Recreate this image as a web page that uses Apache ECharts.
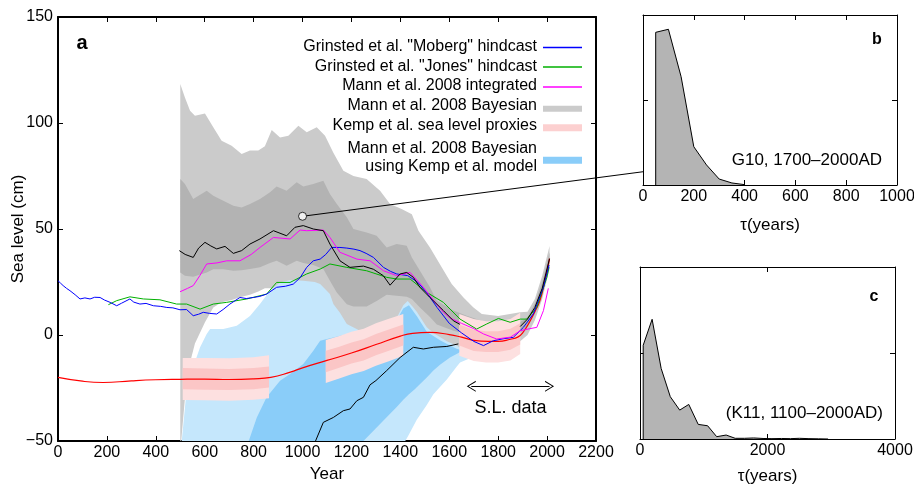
<!DOCTYPE html>
<html>
<head>
<meta charset="utf-8">
<script src="https://cdn.jsdelivr.net/npm/echarts/dist/echarts.min.js"></script>
<style>html,body{margin:0;padding:0;background:#fff}#chart{width:914px;height:486px}</style>
</head>
<body>
<div id="chart"></div>
<script>
var FONT = '"Liberation Sans", Arial, sans-serif';

// ---- panel a : sea level (cm) ----
var redYears = [0,100,185,300,400,500,600,700,800,870,950,1000,1100,1200,1300,1400,1450,1520,1600,1650,1700,1760,1800,1850,1880,1900,1930,1950,1970,1990,2010];
var redVals  = [-20,-21.8,-22.4,-21.6,-21.1,-20.9,-20.8,-21,-20.7,-20,-17.5,-15.5,-12,-8.5,-4.5,-0.5,0.8,1.2,0.2,-1,-2.5,-3,-3,-2,-1,1,6.5,11,16,25,36];

var blueYears = [0,10,21,35,49,70,90,110,131,150,172,190,213,240,260,294,310,335,360,390,420,445,470,499,526,553,575,594,620,649,675,703,744,770,799,825,853,894,930,962,990,1017,1044,1072,1095,1119,1153,1181,1210,1235,1260,1290,1331,1360,1385,1430,1470,1508,1550,1600,1650,1700,1740,1780,1820,1862,1903,1944,1985,2008];
var blueVals  = [25.6,24.5,23.3,22,20.9,19,17,17.5,17,17.8,17.7,16.5,15.4,13.8,15,17,15.5,14.6,14.9,13.8,13.5,13,12.8,11.9,12,9.1,9.8,10.7,10.2,9.9,12,14.6,17.7,17.2,17.7,18.2,19.3,22.5,23,24,27,31.9,35,35.8,38,41.3,41.3,41,40.5,39.8,38.5,36.6,31.9,30,28.8,28,25,20,13,5.5,1,-3,-5,-2.7,-1.8,-1.1,3.6,10,22.5,33];

var greenYears = [206,240,294,349,417,485,526,581,635,690,772,853,894,949,1017,1072,1112,1181,1262,1344,1385,1440,1508,1576,1644,1712,1753,1801,1849,1890,1917,1958,1999,2008];
var greenVals  = [14.3,16.2,18,17,16.6,14.6,14.6,12.2,14.6,15.4,17,19.3,24.8,24.8,28.8,31.1,33.5,31.9,30.3,27.2,26.4,26.4,20.1,15.4,7.5,2.8,5.2,7.8,6,7.5,7.5,13,27.2,32];

var magentaYears = [499,530,553,580,608,650,690,744,790,826,881,949,990,1017,1085,1112,1153,1222,1276,1331,1385,1440,1494,1521,1576,1603,1650,1700,1740,1794,1850,1890,1930,1958,1985,2005];
var magentaVals  = [20.4,22,23.3,28,33.5,34,35,35,38,41.3,46,45.3,49.5,49.2,49.5,46,39,35.8,35,30.3,28,29.5,22.5,18.5,10.7,8,5.5,3,0.5,-1.9,-1,2,3,3.6,11.5,22];

var blackYears = [496,520,553,575,601,625,649,683,717,751,785,826,881,935,969,1003,1044,1085,1112,1153,1194,1249,1290,1330,1358,1399,1426,1453,1480,1521,1576,1617,1644];
var blackVals  = [39.8,38,36.6,41,43.7,42,40.6,41.8,38.5,39.8,42.9,45.3,49.2,46.8,50.8,51.6,50,49.2,42.9,35,31.9,32.5,31,28,23.5,28.8,29.5,27.2,22.5,17.7,11.5,6.7,5];
var blackEndYears = [1890,1920,1950,1980,2010];
var blackEndVals  = [4,7.5,13,22,36];

var kempMedYears = [1035,1085,1126,1167,1194,1222,1249,1276,1300,1344,1399,1453,1494,1535,1590,1637];
var kempMedVals  = [-55,-41.2,-38.9,-35.7,-34.9,-31,-29.4,-23.5,-21.5,-16.8,-10.6,-5.8,-6.6,-5.8,-5.4,-4.2];

var grayOutYears = [500,519,540,560,601,635,669,710,751,785,819,846,874,908,942,983,1017,1058,1092,1126,1167,1208,1262,1317,1358,1405,1447,1474,1521,1569,1610,1658,1699,1733,1800,1890,1920,1950,1980,2010];
var grayOutHi = [118.4,112,105.8,103.4,104.5,98,91.6,89.3,85.4,87,87,89,96.7,93.2,94,98.7,95.6,98,94,86,77.5,75,73.6,68,61.8,59.4,57,49.2,41.3,31.9,24,17.7,13,9.9,9,10.7,11,17,28,42];
var grayOutLo = [-55,-30,-13,-4,6,13,15.5,16.5,18,19,20.5,22,22,17,8,2,0,-3,-5,-5,-5,-5,-5,-4,-2,0,4,3,0,-3,-6,-8,-8,-8,-7,-3,0,7,17,31];

var grayInYears = [500,519,553,608,635,676,717,751,785,826,867,894,935,976,1003,1044,1085,1112,1140,1181,1208,1262,1303,1344,1385,1426,1447,1480,1521,1549,1617,1671,1750,1890,1920,1950,1980,2010];
var grayInHi = [73.6,71.2,64.2,68,65.7,63.3,61,60.2,61.8,64.2,67.3,70,68,72,70,71.2,72.8,66.5,61.8,55.5,50,48.4,46.8,41.3,42.9,42.1,36.6,30.3,22.5,16.2,11.5,9.1,6,6,8.5,15,25,39];
var grayInLo = [29.5,28,27.5,29.5,31,31,30.3,30.5,31.1,32,34,35,32.7,35,34,33,31.1,25.6,20,14.5,13.5,13.5,16,19,18.5,18,17,13,8.5,5,2,0.5,0,1,4,10,20,34];

var lbYears = [500,506,526,553,581,608,622,676,731,785,826,867,908,950,1003,1050,1072,1112,1126,1153,1181,1235,1300,1380,1412,1420,1430,1453,1467,1508,1535,1562,1590,1630,1644,1685,1700,1750,1800];
var lbHi = [-55,-50,-26,-15,-5.8,0.5,2.8,2.8,4.4,9,14.6,21,24.8,26,25.6,25,24,19.3,14.6,10.5,5.2,2,4,7,14,15,16,13,11,3.6,1,-1,-3,-5,-6,-8.5,-9,-9.5,-8];
var lbLo = [-55,-55,-55,-55,-55,-55,-55,-55,-55,-55,-55,-55,-55,-55,-55,-55,-55,-55,-55,-55,-55,-55,-55,-55,-55,-50,-48,-43,-40,-33,-28,-24.5,-21,-15,-13,-11,-10.5,-10,-8];

var dbYears = [772,780,813,853,908,949,1003,1044,1072,1100,1200,1240,1249,1300,1317,1380,1385,1412,1435,1460,1467,1508,1535,1562,1603,1630,1644,1700];
var dbHi = [-55,-50,-38.9,-29.4,-21.6,-18.4,-13.7,-7.4,-2.7,-1.9,1,2,2.5,4,4.5,6,7,12.5,14,10,9,1.5,-0.5,-2.5,-5,-6.5,-7,-9.5];
var dbLo = [-55,-55,-55,-55,-55,-55,-55,-55,-55,-55,-55,-55,-50,-44,-42,-34.5,-34,-30.5,-28,-25.5,-24.7,-20,-16.8,-14,-10.6,-9,-8,-9.5];

// Kemp et al. sea level proxies: three segments, outer and inner ranges
var seg1Years = [510,600,700,800,863];
var seg1OutHi = [-10.8,-10.8,-11,-10.5,-9.6];
var seg1InHi  = [-15.6,-15.8,-16,-15.6,-14.8];
var seg1InLo  = [-25.6,-25.8,-26,-25.6,-24.8];
var seg1OutLo = [-30.7,-30.8,-31,-30.6,-29.8];
var seg2Years = [1095,1150,1200,1250,1300,1350,1412];
var seg2OutHi = [-2.4,-0.5,1.5,3,5.5,7.5,9.9];
var seg2InHi  = [-7.4,-5.5,-3.5,-2,0.5,2.5,5];
var seg2InLo  = [-17.6,-15.5,-13.5,-12,-9.5,-7.5,-5];
var seg2OutLo = [-22.7,-20.5,-18.5,-17,-14.5,-12.5,-9.8];
var seg3Years = [1641,1700,1750,1800,1850,1890];
var seg3OutHi = [9.9,7.5,6.5,6.5,7.5,10.5];
var seg3InHi  = [5,2.5,1.8,1.8,3,5.5];
var seg3InLo  = [-5,-7.5,-8,-8,-7,-4.5];
var seg3OutLo = [-9.8,-12.3,-13,-13,-12,-9];

var markerPoint = [1000, 56];
var slDataRange = [1690, 2010];
var slDataLevel = -24.2;

// ---- panels b and c : tau distributions ----
var bTau = [50,50,100,150,200,250,300,350,400];
var bDen = [0,0.898,0.916,0.637,0.225,0.118,0.035,0.012,0.002];
var cTau = [50,50,190,332,475,623,765,913,1061,1203,1351,1493,1640,1784,1930,2070,2220,2360,2500,2650,2800,2950];
var cDen = [0,0.545,0.696,0.41,0.246,0.168,0.201,0.085,0.077,0.0135,0.023,0.004,0.004,0.006,0.003,0.002,0.003,0.002,0.004,0.002,0.001,0];

function pairs(xs, ys) { return xs.map(function (x, i) { return [x, ys[i]]; }); }

// filled range between lo and hi, drawn as one polygon through the axes
function band(xs, lo, hi, color) {
    return {
        type: 'custom', silent: true, clip: true,
        data: xs.map(function (x, i) { return [x, lo[i], hi[i]]; }),
        encode: { x: 0, y: [1, 2] },
        renderItem: function (params, api) {
            if (params.dataIndexInside !== 0) return null;
            var n = params.dataInsideLength, top = [], bot = [];
            for (var j = 0; j < n; j++) {
                top.push(api.coord([api.value(0, j), api.value(2, j)]));
                bot.push(api.coord([api.value(0, j), api.value(1, j)]));
            }
            var c = params.coordSys;
            return {
                type: 'polygon',
                shape: { points: top.concat(bot.reverse()) },
                style: { fill: color },
                clipPath: { type: 'rect', shape: { x: c.x, y: c.y, width: c.width, height: c.height } }
            };
        }
    };
}

function curve(xs, ys, color, width, smooth) {
    return { type: 'line', data: pairs(xs, ys), symbol: 'none', smooth: !!smooth, silent: true,
             lineStyle: { color: color, width: width } };
}

var PINK_OUT = '#fde0e0', PINK_IN = '#fbc6c6';
var chevron = 'path://M0,10L5,0L10,10L9,10L5,2L1,10Z';

var series = [
    band(grayOutYears, grayOutLo, grayOutHi, '#cbcbcb'),
    band(grayInYears, grayInLo, grayInHi, '#b3b3b3'),
    band(lbYears, lbLo, lbHi, '#c5e7fc'),
    band(dbYears, dbLo, dbHi, '#8acdf9'),
    band(seg1Years, seg1OutLo, seg1OutHi, PINK_OUT),
    band(seg1Years, seg1InLo, seg1InHi, PINK_IN),
    band(seg2Years, seg2OutLo, seg2OutHi, PINK_OUT),
    band(seg2Years, seg2InLo, seg2InHi, PINK_IN),
    band(seg3Years, seg3OutLo, seg3OutHi, PINK_OUT),
    band(seg3Years, seg3InLo, seg3InHi, PINK_IN)
];

var red = curve(redYears, redVals, '#ff0000', 1.2, true);
red.markLine = {
    silent: true, symbol: [chevron, chevron], symbolSize: [11, 9],
    lineStyle: { color: '#000', width: 1, type: 'solid' },
    label: { show: true, formatter: 'S.L. data', position: 'insideMiddleBottom', distance: 13,
             color: '#000', fontSize: 18, fontFamily: FONT },
    data: [[{ coord: [slDataRange[0], slDataLevel] }, { coord: [slDataRange[1], slDataLevel] }]]
};
series.push(red);
series.push(curve(kempMedYears, kempMedVals, '#000', 1));
series.push(curve(greenYears, greenVals, '#00b000', 1));
series.push(curve(blueYears, blueVals, '#0000ff', 1));
series.push(curve(magentaYears, magentaVals, '#ff00ff', 1));
series.push(curve(blackYears, blackVals, '#000', 1));
series.push(curve(blackEndYears, blackEndVals, '#000', 1));
series.push({ type: 'scatter', data: [markerPoint], symbolSize: 8, z: 20, silent: true,
              itemStyle: { color: '#fff', borderColor: '#000', borderWidth: 1 } });

series.push({ type: 'line', xAxisIndex: 2, yAxisIndex: 2, data: pairs(bTau, bDen), symbol: 'none',
              silent: true, lineStyle: { color: '#000', width: 1 }, areaStyle: { color: '#b4b4b4', opacity: 1 } });
series.push({ type: 'line', xAxisIndex: 4, yAxisIndex: 4, data: pairs(cTau, cDen), symbol: 'none',
              silent: true, lineStyle: { color: '#000', width: 1 }, areaStyle: { color: '#b4b4b4', opacity: 1 } });

function plain(v) { return String(v); }

function xAx(grid, min, max, step, pos, lw, extra) {
    var a = {
        type: 'value', gridIndex: grid, min: min, max: max, interval: step, position: pos,
        axisLine: { show: true, onZero: false, lineStyle: { color: '#000', width: lw } },
        axisTick: { show: true, inside: true, length: 5, lineStyle: { color: '#000', width: 1 } },
        axisLabel: { show: pos === 'bottom', color: '#000', fontSize: 16, fontFamily: FONT, margin: 4, formatter: plain },
        splitLine: { show: false }
    };
    return Object.assign(a, extra || {});
}
function yAx(grid, min, max, step, pos, lw, extra) {
    var a = {
        type: 'value', gridIndex: grid, min: min, max: max, interval: step, position: pos,
        axisLine: { show: true, onZero: false, lineStyle: { color: '#000', width: lw } },
        axisTick: { show: true, inside: true, length: 5, lineStyle: { color: '#000', width: 1 } },
        axisLabel: { show: false },
        splitLine: { show: false }
    };
    return Object.assign(a, extra || {});
}

var chart = echarts.init(document.getElementById('chart'));
chart.setOption({
    animation: false,
    grid: [
        { left: 58, top: 17, width: 538, height: 424, outerBoundsMode: 'none' },
        { left: 643, top: 15, width: 254, height: 170, outerBoundsMode: 'none' },
        { left: 640, top: 267, width: 255, height: 172, outerBoundsMode: 'none' }
    ],
    xAxis: [
        xAx(0, 0, 2200, 200, 'bottom', 2, { name: 'Year', nameLocation: 'middle', nameGap: 21,
            nameTextStyle: { color: '#000', fontSize: 17, fontFamily: FONT } }),
        xAx(0, 0, 2200, 200, 'top', 2),
        xAx(1, 0, 1000, 200, 'bottom', 1, { name: 'τ(years)', nameLocation: 'middle', nameGap: 32,
            nameTextStyle: { color: '#000', fontSize: 17, fontFamily: FONT } }),
        xAx(1, 0, 1000, 200, 'top', 1),
        xAx(2, 0, 4000, 2000, 'bottom', 1, { name: 'τ(years)', nameLocation: 'middle', nameGap: 29,
            nameTextStyle: { color: '#000', fontSize: 17, fontFamily: FONT } }),
        xAx(2, 0, 4000, 2000, 'top', 1)
    ],
    yAxis: [
        yAx(0, -50, 150, 50, 'left', 2, {
            axisLabel: { show: true, color: '#000', fontSize: 16, fontFamily: FONT, margin: 5,
                         formatter: function (v) { return v < 0 ? '\u2212' + Math.abs(v) : String(v); } },
            name: 'Sea level (cm)', nameLocation: 'middle', nameGap: 31, nameMoveOverlap: false,
            nameTextStyle: { color: '#000', fontSize: 17, fontFamily: FONT } }),
        yAx(0, -50, 150, 50, 'right', 2),
        yAx(1, 0, 1, 0.5, 'left', 1),
        yAx(1, 0, 1, 0.5, 'right', 1),
        yAx(2, 0, 1, 0.5, 'left', 1),
        yAx(2, 0, 1, 0.5, 'right', 1)
    ],
    series: series
});

// connector from the marked point to panel b, plus labels and the legend
var p1 = chart.convertToPixel({ xAxisIndex: 0, yAxisIndex: 0 }, markerPoint);
var p2 = chart.convertToPixel({ xAxisIndex: 2, yAxisIndex: 2 }, [0, 0.078]);
var dx = p2[0] - p1[0], dy = p2[1] - p1[1], len = Math.sqrt(dx * dx + dy * dy);
var sx = p1[0] + dx / len * 4, sy = p1[1] + dy / len * 4;

var legendRows = [
    { text: 'Grinsted et al. "Moberg" hindcast', y: 47, kind: 'line', color: '#0000ff', sy: 47.5 },
    { text: 'Grinsted et al. "Jones" hindcast', y: 66.5, kind: 'line', color: '#00b000', sy: 67 },
    { text: 'Mann et al. 2008 integrated', y: 86, kind: 'line', color: '#ff00ff', sy: 87 },
    { text: 'Mann et al. 2008 Bayesian', y: 106, kind: 'rect', color: '#cbcbcb', sy: 108.8, h: 6 },
    { text: 'Kemp et al. sea level proxies', y: 125.5, kind: 'rect', color: '#fcd0d0', sy: 127.7, h: 7 },
    { text: 'Mann et al. 2008 Bayesian', y: 149, kind: 'rect', color: '#8acdf9', sy: 160.3, h: 7 },
    { text: 'using Kemp et al. model', y: 166.5 }
];
var graphics = [
    { type: 'line', z: 100, shape: { x1: sx, y1: sy, x2: p2[0], y2: p2[1] }, style: { stroke: '#000', lineWidth: 1 } },
    { type: 'text', z: 100, style: { text: 'a', x: 82, y: 43, textAlign: 'center', textVerticalAlign: 'middle',
      font: 'bold 20px ' + FONT, fill: '#000' } },
    { type: 'text', z: 100, style: { text: 'b', x: 877, y: 40, textAlign: 'center', textVerticalAlign: 'middle',
      font: 'bold 16px ' + FONT, fill: '#000' } },
    { type: 'text', z: 100, style: { text: 'c', x: 874, y: 297, textAlign: 'center', textVerticalAlign: 'middle',
      font: 'bold 16px ' + FONT, fill: '#000' } },
    { type: 'text', z: 100, style: { text: 'G10, 1700\u20132000AD', x: 882, y: 160, textAlign: 'right',
      textVerticalAlign: 'middle', font: '17px ' + FONT, fill: '#000' } },
    { type: 'text', z: 100, style: { text: '(K11, 1100\u20132000AD)', x: 883, y: 413, textAlign: 'right',
      textVerticalAlign: 'middle', font: '17px ' + FONT, fill: '#000' } }
];
legendRows.forEach(function (r) {
    graphics.push({ type: 'text', z: 100, style: { text: r.text, x: 537, y: r.y, textAlign: 'right',
        textVerticalAlign: 'middle', font: '16px ' + FONT, fill: '#000' } });
    if (r.kind === 'line') {
        graphics.push({ type: 'line', z: 100, shape: { x1: 543, y1: r.sy, x2: 582, y2: r.sy },
                        style: { stroke: r.color, lineWidth: 1.3 } });
    } else if (r.kind === 'rect') {
        graphics.push({ type: 'rect', z: 100, shape: { x: 543, y: r.sy - r.h / 2, width: 39, height: r.h },
                        style: { fill: r.color } });
    }
});
chart.setOption({ graphic: graphics });
</script>
</body>
</html>
